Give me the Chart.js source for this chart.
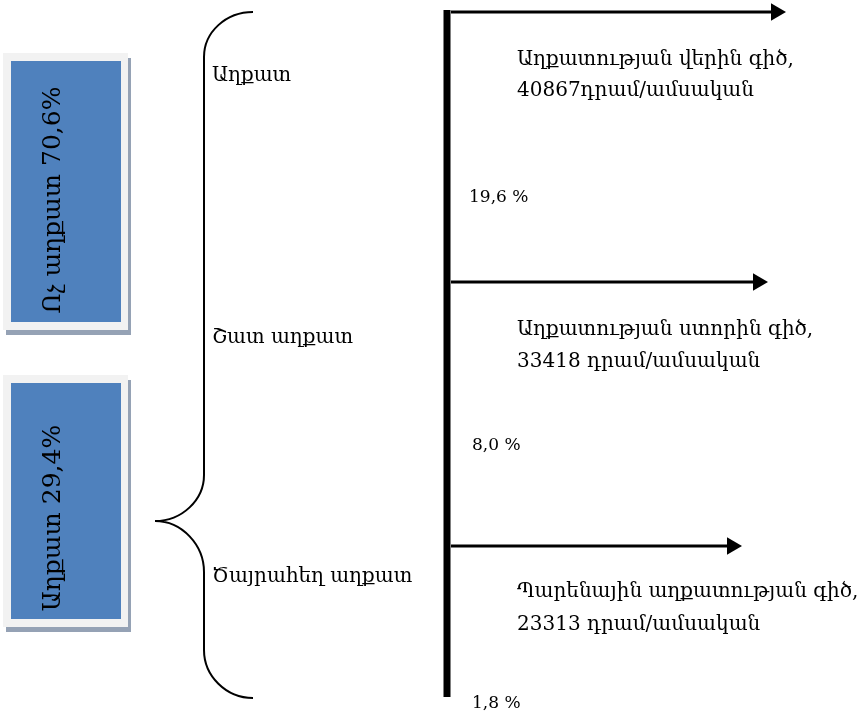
<!DOCTYPE html>
<html><head><meta charset="utf-8">
<script src="https://cdn.jsdelivr.net/npm/chart.js@4.4.1/dist/chart.umd.min.js"></script>
<style>html,body{margin:0;padding:0;background:#fff}#wrap{width:868px;height:712px}</style>
</head><body><div id="wrap"><canvas id="c" width="868" height="712"></canvas></div>
<script>
// ---- data ----
const groupLabels = ['Ոչ աղքատ 70,6%', 'Աղքատ 29,4%'];
const categories = ['Աղքատ', 'Շատ աղքատ', 'Ծայրահեղ աղքատ'];
const lineNames = ['Աղքատության վերին գիծ,', 'Աղքատության ստորին գիծ,', 'Պարենային աղքատության գիծ,'];
const lineValues = [40867, 33418, 23313];
const unitSeparators = ['', ' ', ' '];
const unitLabel = 'դրամ/ամսական';
const shareLabels = ['19,6 %', '8,0 %', '1,8 %'];

// ---- layout (scale units == canvas pixels) ----
const L = {
  W: 868, H: 712,
  axisX: 447, axisTop: 10, axisBottom: 697, axisWidth: 7,
  arrowY: [12, 282, 546], arrowStart: 451, arrowTip: [786, 768, 742], headR: 10,
  lineTextX: 517, line1Y: [65, 335, 597], line2Y: [96, 367, 630],
  shareX: [469, 472, 472], shareY: [202, 450, 708],
  catX: 212, catY: [81, 343, 582],
  frames: [{x: 3, y: 53, w: 125, h: 277}, {x: 3, y: 375, w: 125, h: 252}],
  inset: 8, shadowDx: 3, shadowDy: 5,
  boxTextX: 60, boxTextY: [200, 518],
  font: 'DejaVu Serif', mainSize: 20, shareSize: 17, boxSize: 25
};

const datasets = [{
  data: [{x: L.axisX, y: L.axisTop}, {x: L.axisX, y: L.axisBottom}],
  showLine: true, borderColor: '#000', borderWidth: L.axisWidth, pointRadius: 0, borderCapStyle: 'butt'
}];
L.arrowY.forEach((y, i) => {
  datasets.push({
    data: [{x: L.arrowStart, y: y}, {x: L.arrowTip[i] - L.headR, y: y}],
    showLine: true, borderColor: '#000', borderWidth: 3,
    pointRadius: [0, L.headR], pointStyle: 'triangle', pointRotation: 90,
    pointBackgroundColor: '#000', pointBorderColor: '#000', pointBorderWidth: 0
  });
});

const decor = {
  id: 'decor',
  beforeDatasetsDraw(chart) {
    const ctx = chart.ctx, sx = chart.scales.x, sy = chart.scales.y;
    const X = v => sx.getPixelForValue(v), Y = v => sy.getPixelForValue(v);
    ctx.save();
    // boxes
    L.frames.forEach((f, i) => {
      ctx.fillStyle = '#95a2b5';
      ctx.fillRect(X(f.x + L.shadowDx), Y(f.y + L.shadowDy), f.w, f.h);
      ctx.fillStyle = '#f2f2f2';
      ctx.fillRect(X(f.x), Y(f.y), f.w, f.h);
      ctx.fillStyle = '#4f81bd';
      ctx.fillRect(X(f.x + L.inset), Y(f.y + L.inset), f.w - 2 * L.inset + 1, f.h - 2 * L.inset);
      ctx.save();
      ctx.translate(X(L.boxTextX), Y(L.boxTextY[i]));
      ctx.rotate(-Math.PI / 2);
      ctx.fillStyle = '#000';
      ctx.font = L.boxSize + 'px "' + L.font + '"';
      ctx.textAlign = 'center';
      ctx.textBaseline = 'alphabetic';
      ctx.fillText(groupLabels[i], 0, 0);
      ctx.restore();
    });
    // brace
    ctx.strokeStyle = '#000';
    ctx.lineWidth = 2;
    ctx.beginPath();
    ctx.moveTo(X(253), Y(12));
    ctx.bezierCurveTo(X(226), Y(12), X(204), Y(32), X(204), Y(57));
    ctx.lineTo(X(204), Y(475));
    ctx.bezierCurveTo(X(204), Y(500), X(182), Y(521), X(155), Y(521));
    ctx.bezierCurveTo(X(182), Y(521), X(204), Y(545), X(204), Y(572));
    ctx.lineTo(X(204), Y(650));
    ctx.bezierCurveTo(X(204), Y(676), X(226), Y(698), X(253), Y(698));
    ctx.stroke();
    // texts
    ctx.fillStyle = '#000';
    ctx.textAlign = 'left';
    ctx.textBaseline = 'alphabetic';
    ctx.font = L.mainSize + 'px "' + L.font + '"';
    categories.forEach((c, i) => ctx.fillText(c, X(L.catX), Y(L.catY[i])));
    lineNames.forEach((n, i) => {
      ctx.fillText(n, X(L.lineTextX), Y(L.line1Y[i]));
      ctx.fillText(lineValues[i] + unitSeparators[i] + unitLabel, X(L.lineTextX), Y(L.line2Y[i]));
    });
    ctx.font = L.shareSize + 'px "' + L.font + '"';
    shareLabels.forEach((s, i) => ctx.fillText(s, X(L.shareX[i]), Y(L.shareY[i])));
    ctx.restore();
  }
};

new Chart(document.getElementById('c'), {
  type: 'scatter',
  data: {datasets},
  options: {
    responsive: false, animation: false, events: [],
    devicePixelRatio: 1,
    layout: {padding: 0, autoPadding: false},
    plugins: {legend: {display: false}, tooltip: {enabled: false}, title: {display: false}},
    scales: {
      x: {type: 'linear', min: 0, max: L.W, display: false},
      y: {type: 'linear', min: 0, max: L.H, reverse: true, display: false}
    }
  },
  plugins: [decor]
});
</script></body></html>
